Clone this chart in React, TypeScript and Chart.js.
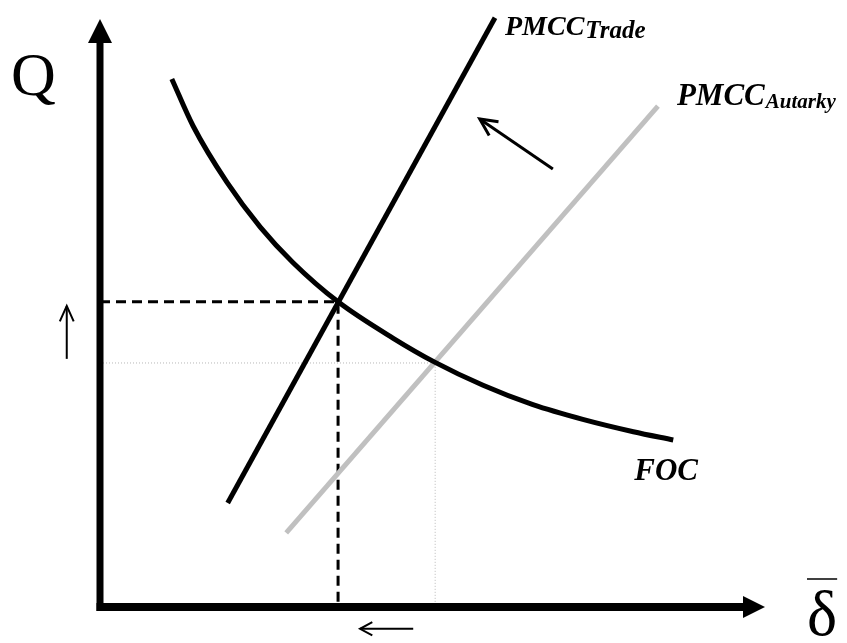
import { useEffect, useRef } from 'react';
import { Chart, registerables } from 'chart.js';

Chart.register(...registerables);

// FOC curve
const focX = [10.8, 14.0, 19.1, 24.1, 29.0, 35.8, 44.1, 50.4, 57.6, 65.1, 72.6, 80.2, 86.2];
const focY = [89.8, 81.8, 72.2, 64.6, 58.6, 51.9, 45.7, 41.6, 37.7, 34.4, 31.9, 29.8, 28.4];
// PMCC lines (end points)
const tradeX = [19.2, 59.4];
const tradeY = [17.7, 100.2];
const autarkyX = [28.0, 83.9];
const autarkyY = [12.6, 85.2];
// equilibria
const eqTrade = [35.8, 51.9];
const eqAutarky = [50.4, 41.5];
// labels
const labelQ = 'Q';
const labelDelta = 'δ';
const labelTrade = ['PMCC', 'Trade'];
const labelAutarky = ['PMCC', 'Autarky'];
const labelFOC = 'FOC';

const SERIF = '"Liberation Serif", "Times New Roman", serif';

function arrow(ctx: CanvasRenderingContext2D, x1: number, y1: number, x2: number, y2: number, w: number, head: number, ang: number) {
  const a = Math.atan2(y2 - y1, x2 - x1);
  ctx.save();
  ctx.strokeStyle = '#000';
  ctx.lineWidth = w;
  ctx.lineCap = 'butt';
  ctx.beginPath();
  ctx.moveTo(x1, y1);
  ctx.lineTo(x2, y2);
  ctx.stroke();
  ctx.beginPath();
  ctx.moveTo(x2 - head * Math.cos(a - ang), y2 - head * Math.sin(a - ang));
  ctx.lineTo(x2, y2);
  ctx.lineTo(x2 - head * Math.cos(a + ang), y2 - head * Math.sin(a + ang));
  ctx.stroke();
  ctx.restore();
}

const decor = {
  id: 'decor',
  afterDraw(chart: any) {
    const ctx: CanvasRenderingContext2D = chart.ctx;
    const xs = chart.scales.x;
    const ys = chart.scales.y;
    const px = (v: number) => xs.getPixelForValue(v);
    const py = (v: number) => ys.getPixelForValue(v);
    const x0 = px(0), y0 = py(0), xt = px(100), yt = py(100);
    ctx.save();
    ctx.fillStyle = '#000';
    ctx.strokeStyle = '#000';
    // y axis
    ctx.lineWidth = 7;
    ctx.beginPath();
    ctx.moveTo(x0, y0 + 4);
    ctx.lineTo(x0, yt + 22);
    ctx.stroke();
    ctx.beginPath();
    ctx.moveTo(x0, yt);
    ctx.lineTo(x0 - 12, yt + 24);
    ctx.lineTo(x0 + 12, yt + 24);
    ctx.closePath();
    ctx.fill();
    // x axis
    ctx.lineWidth = 8;
    ctx.beginPath();
    ctx.moveTo(x0 - 3.5, y0);
    ctx.lineTo(xt - 20, y0);
    ctx.stroke();
    ctx.beginPath();
    ctx.moveTo(xt, y0);
    ctx.lineTo(xt - 22, y0 - 11);
    ctx.lineTo(xt - 22, y0 + 11);
    ctx.closePath();
    ctx.fill();

    // axis labels
    ctx.textBaseline = 'alphabetic';
    ctx.textAlign = 'left';
    ctx.font = `62px ${SERIF}`;
    ctx.fillText(labelQ, x0 - 89, yt + 76);
    ctx.font = `64px ${SERIF}`;
    const dw = ctx.measureText(labelDelta).width;
    const dx = xt + 42;
    ctx.fillText(labelDelta, dx, y0 + 28);
    ctx.lineWidth = 1.5;
    ctx.beginPath();
    ctx.moveTo(dx, y0 - 28);
    ctx.lineTo(dx + dw, y0 - 28);
    ctx.stroke();

    // curve labels
    const sub = (main: string, s: string, x: number, y: number, fm: number, fs: number) => {
      ctx.font = `bold italic ${fm}px ${SERIF}`;
      ctx.fillText(main, x, y);
      const w = ctx.measureText(main).width;
      ctx.font = `bold italic ${fs}px ${SERIF}`;
      ctx.fillText(s, x + w + 1, y + 3);
    };
    sub(labelTrade[0], labelTrade[1], px(tradeX[1]) + 10, py(tradeY[1]) + 17, 28, 25);
    sub(labelAutarky[0], labelAutarky[1], px(autarkyX[1]) + 19, py(autarkyY[1]) - 1, 31, 21);
    ctx.font = `bold italic 31px ${SERIF}`;
    ctx.fillText(labelFOC, px(focX[focX.length - 1]) - 39, py(focY[focY.length - 1]) + 40);

    // arrows
    arrow(ctx, px(-5), py(42.2), px(-5), py(51.2), 2, 17, 0.42);
    arrow(ctx, px(47.1), py(-3.7), px(39.1), py(-3.7), 2, 14, 0.5);
    arrow(ctx, px(68.1), py(74.5), px(57.1), py(83.0), 3, 19, 0.45);
    ctx.restore();
  },
};

export default function App() {
  const ref = useRef<HTMLCanvasElement>(null);
  useEffect(() => {
    document.body.style.margin = '0';
    const pts = (xs: number[], ys: number[]) => xs.map((x, i) => ({ x, y: ys[i] }));
    const chart = new Chart(ref.current!, {
      type: 'scatter',
      data: {
        datasets: [
          {
            label: 'FOC',
            data: pts(focX, focY),
            showLine: true,
            borderColor: '#000',
            borderWidth: 5,
            cubicInterpolationMode: 'monotone',
            pointRadius: 0,
            clip: false as any,
            order: 1,
          },
          {
            label: 'PMCC Trade',
            data: pts(tradeX, tradeY),
            showLine: true,
            borderColor: '#000',
            borderWidth: 5,
            pointRadius: 0,
            clip: false as any,
            order: 2,
          },
          {
            label: 'PMCC Autarky',
            data: pts(autarkyX, autarkyY),
            showLine: true,
            borderColor: '#c0c0c0',
            borderWidth: 5,
            pointRadius: 0,
            clip: false as any,
            order: 3,
          },
          {
            label: 'trade eq',
            data: [{ x: 0, y: eqTrade[1] }, { x: eqTrade[0], y: eqTrade[1] }, { x: eqTrade[0], y: 0 }],
            showLine: true,
            borderColor: '#000',
            borderWidth: 3,
            borderDash: [10, 6],
            pointRadius: 0,
            clip: false as any,
            order: 4,
          },
          {
            label: 'autarky eq',
            data: [{ x: 0, y: eqAutarky[1] }, { x: eqAutarky[0], y: eqAutarky[1] }, { x: eqAutarky[0], y: 0 }],
            showLine: true,
            borderColor: '#b8b8b8',
            borderWidth: 1,
            borderDash: [1, 2],
            pointRadius: 0,
            clip: false as any,
            order: 5,
          },
        ],
      },
      options: {
        animation: false,
        responsive: false,
        events: [],
        layout: { padding: { left: 100, right: 82, top: 19, bottom: 36 } },
        plugins: { legend: { display: false }, tooltip: { enabled: false } },
        scales: {
          x: { type: 'linear', min: 0, max: 100, display: false },
          y: { type: 'linear', min: 0, max: 100, display: false },
        },
      },
      plugins: [decor],
    });
    return () => chart.destroy();
  }, []);
  return (
    <div style={{ width: 847, height: 643, background: '#fff' }}>
      <canvas ref={ref} width={847} height={643} />
    </div>
  );
}
